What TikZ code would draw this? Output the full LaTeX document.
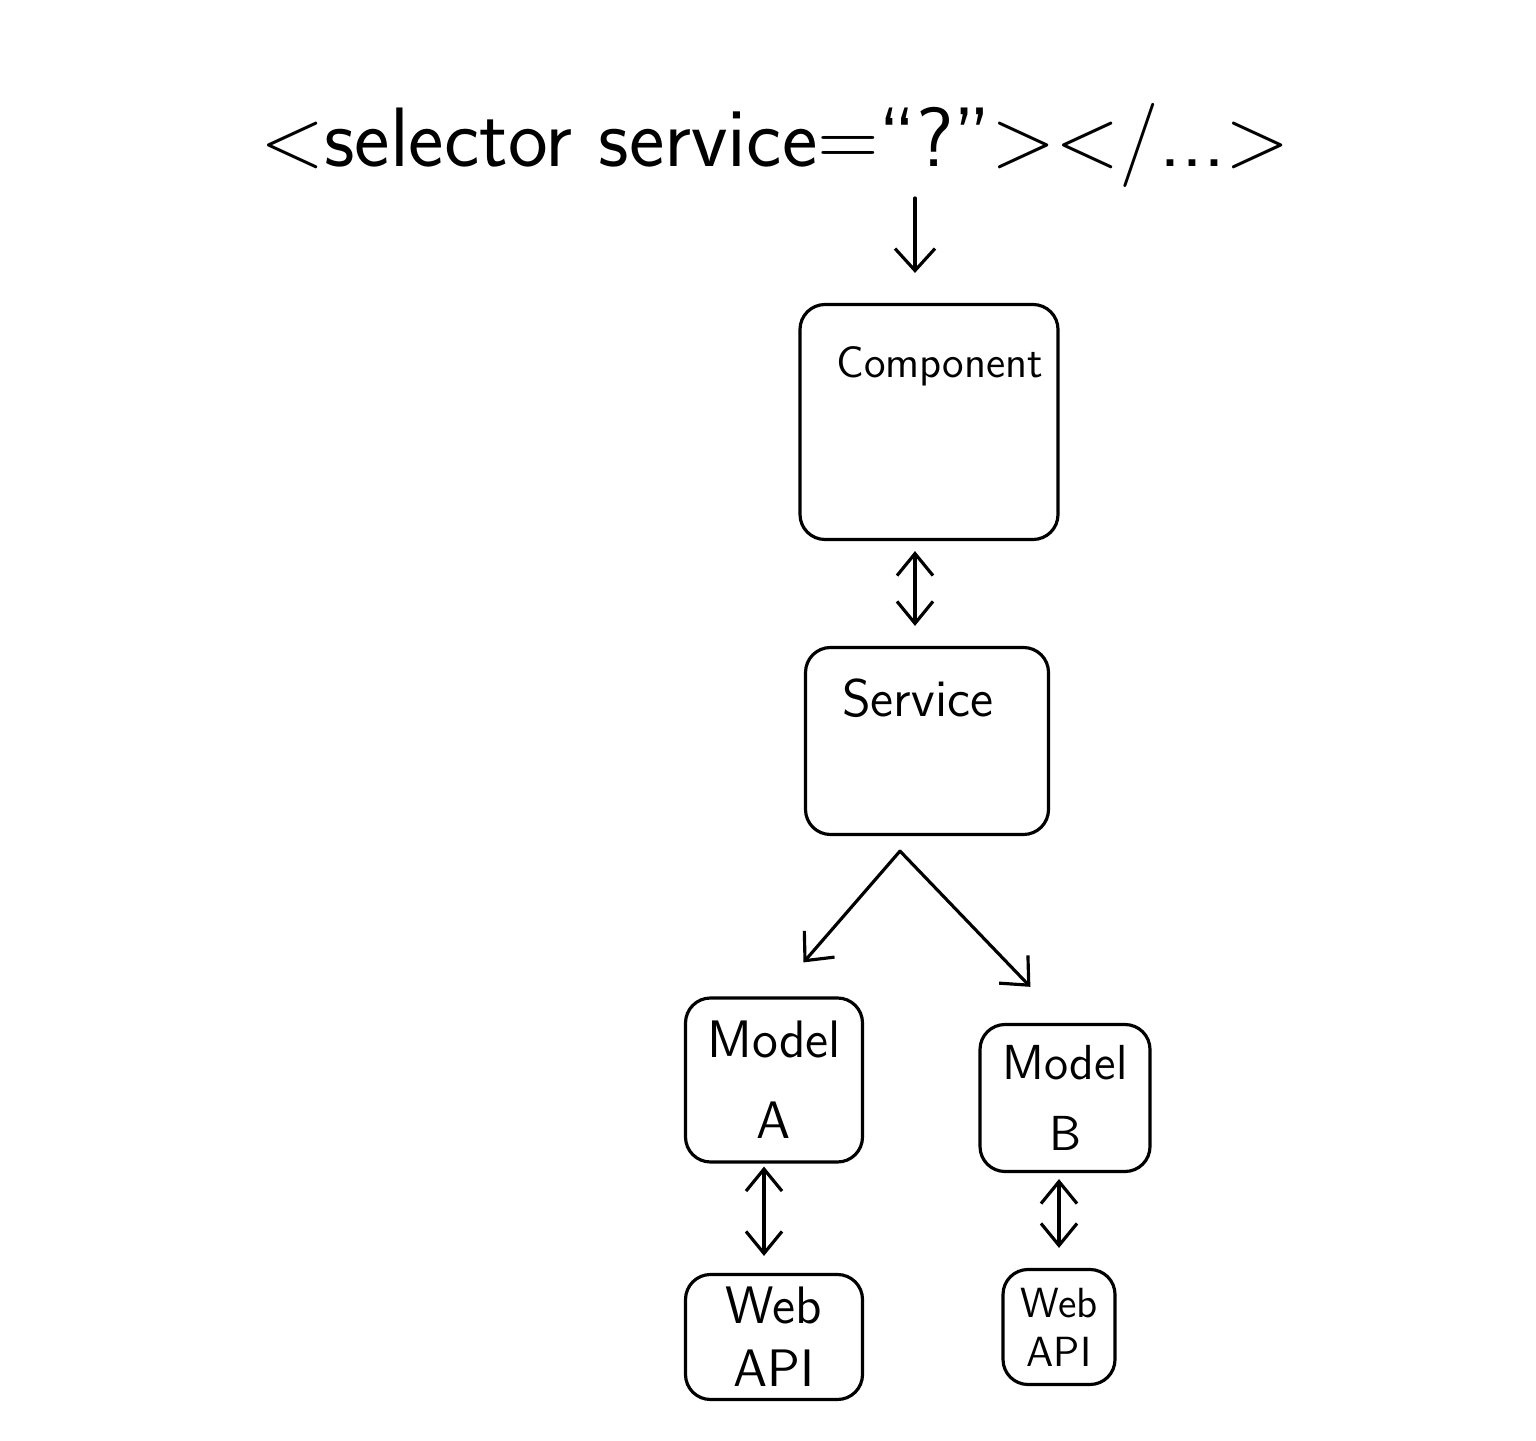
\documentclass[tikz,border=0pt]{standalone}
\usetikzlibrary{arrows.meta}
\begin{document}
\begin{tikzpicture}[
  font=\sffamily,
  every path/.style={line width=0.9pt, line cap=round},
  box/.style={draw, rounded corners=2.5mm, inner sep=0pt},
  arr/.style={-{Straight Barb[length=2.2mm, width=4mm]}},
  biarr/.style={{Straight Barb[length=2.2mm, width=3.6mm]}-{Straight Barb[length=2.2mm, width=3.6mm]}}]
\useasboundingbox (0,0) rectangle (15.36,14.4);
\node (sel) at (7.75,12.95) {\fontsize{24}{28}\selectfont <selector service=``?''></...>};
\coordinate (q) at (9.15,12.42);
\node[box, minimum width=2.58cm, minimum height=2.35cm] (comp) at (9.29,10.18) {};
\node[anchor=north west, font=\sffamily\fontsize{12.5}{15}\selectfont] (compt) at ([xshift=0.25cm, yshift=-0.3cm]comp.north west) {Component};
\node[box, minimum width=2.43cm, minimum height=1.87cm] (serv) at (9.27,6.99) {};
\node[anchor=north west, font=\sffamily\fontsize{15}{18}\selectfont] (servt) at ([xshift=0.25cm, yshift=-0.2cm]serv.north west) {Service};
\coordinate (fork) at ([xshift=-0.27cm, yshift=-0.15cm]serv.south);
\node[box, minimum width=1.77cm, minimum height=1.64cm, align=center, font=\sffamily\fontsize{15}{23}\selectfont] (moda) at (7.74,3.6) {Model\\A};
\node[box, minimum width=1.7cm, minimum height=1.47cm, align=center, font=\sffamily\fontsize{14}{20}\selectfont] (modb) at (10.65,3.42) {Model\\B};
\node[box, minimum width=1.77cm, minimum height=1.25cm, align=center, font=\sffamily\fontsize{15}{18}\selectfont] (weba) at (7.74,1.03) {Web\\API};
\node[box, minimum width=1.12cm, minimum height=1.15cm, align=center, font=\sffamily\fontsize{12}{14}\selectfont] (webb) at (10.59,1.13) {Web\\API};
\draw[arr, shorten >=0.3cm] (q) -- (q |- comp.north);
\draw[biarr, shorten <=0.1cm, shorten >=0.2cm] (comp.south -| q) -- (serv.north -| q);
\draw[arr, shorten >=0.45cm] (fork) -- (moda.north);
\draw[arr, shorten >=0.5cm] (fork) -- (modb.north);
\draw[biarr, shorten <=0.03cm, shorten >=0.17cm] ([xshift=-0.1cm]moda.south) -- ([xshift=-0.1cm]weba.north);
\draw[biarr, shorten <=0.06cm, shorten >=0.2cm] (modb.south -| webb) -- (webb.north);
\end{tikzpicture}
\end{document}
